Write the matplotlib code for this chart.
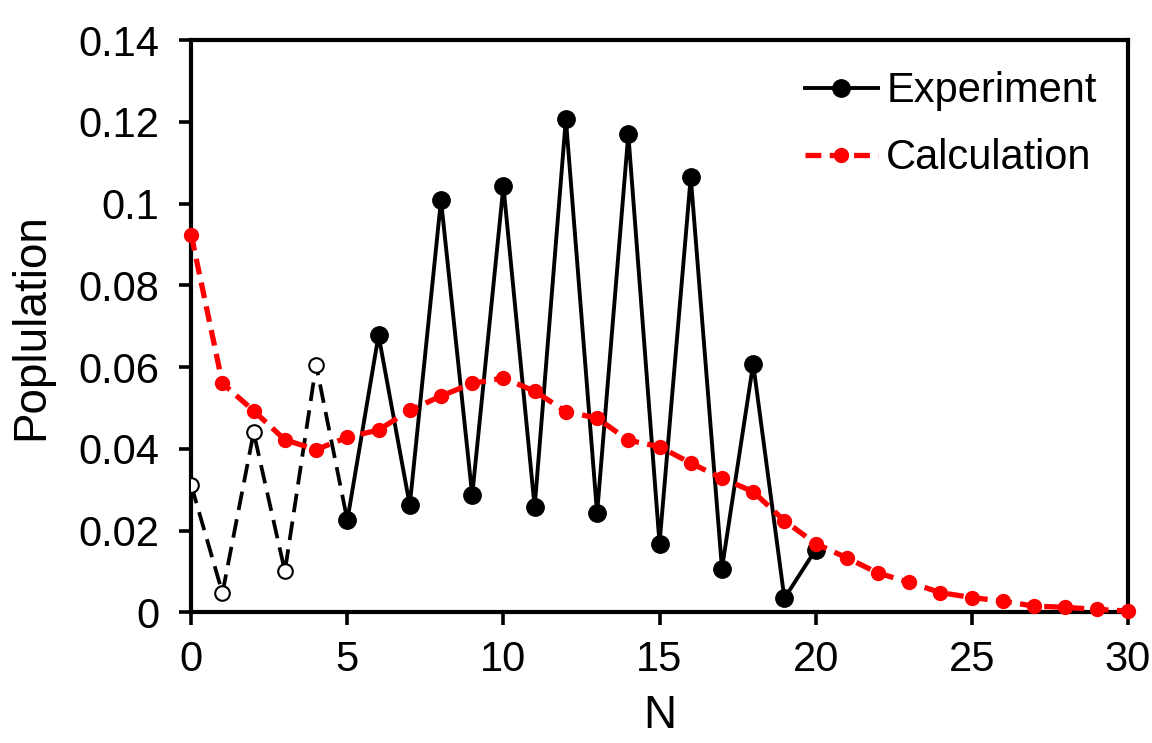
import matplotlib.pyplot as plt

plt.rcParams['font.family'] = ['Liberation Sans', 'DejaVu Sans']

# ------------------ DATA ------------------
n_open = [0, 1, 2, 3, 4, 5]
pop_open = [0.0311, 0.0047, 0.0440, 0.0100, 0.0605, 0.0225]

n_exp = [5, 6, 7, 8, 9, 10, 11, 12, 13, 14, 15, 16, 17, 18, 19, 20]
pop_exp = [0.0225, 0.0678, 0.0262, 0.1009, 0.0286, 0.1043, 0.0257, 0.1207,
           0.0242, 0.1170, 0.0168, 0.1065, 0.0107, 0.0608, 0.0034, 0.0153]

n_calc = list(range(31))
pop_calc = [0.0923, 0.0560, 0.0493, 0.0422, 0.0398, 0.0428, 0.0446, 0.0494,
            0.0529, 0.0560, 0.0573, 0.0541, 0.0491, 0.0475, 0.0421, 0.0405,
            0.0365, 0.0328, 0.0295, 0.0224, 0.0168, 0.0133, 0.0096, 0.0073,
            0.0048, 0.0036, 0.0027, 0.0015, 0.0012, 0.0007, 0.0003]

# ------------------ PLOT ------------------
fig = plt.figure(figsize=(11.52, 7.43), dpi=100)
ax = fig.add_axes([0.166, 0.176, 0.813, 0.770])

# dashed part with open markers (N = 0..4, joined to N = 5)
ax.plot(n_open, pop_open, color="black", linestyle=(0, (5, 2.5)), linewidth=2.7, zorder=2)
ax.plot(n_open[:-1], pop_open[:-1], linestyle="none", marker="o", markersize=10.5,
        markerfacecolor="white", markeredgecolor="black", markeredgewidth=1.5, zorder=3)

ax.plot(n_exp, pop_exp, color="black", linestyle="-", linewidth=2.8,
        marker="o", markersize=12.5, label="Experiment", zorder=3)
ax.plot(n_calc, pop_calc, color="#ff0000", linestyle=(0, (3, 1.6)), linewidth=3.8,
        marker="o", markersize=10, label="Calculation", zorder=4, clip_on=False)

# ------------------ AXES ------------------
ax.set_xlim(0, 30)
ax.set_ylim(0, 0.14)
ax.set_xticks([0, 5, 10, 15, 20, 25, 30])
ax.set_yticks([0, 0.02, 0.04, 0.06, 0.08, 0.1, 0.12, 0.14])
ax.set_yticklabels(["0", "0.02", "0.04", "0.06", "0.08", "0.1", "0.12", "0.14"])
ax.tick_params(direction="out", length=9, width=2.6, labelsize=30,
               top=False, right=False)
ax.tick_params(axis="y", pad=14)
ax.tick_params(axis="x", pad=11)
for s in ax.spines.values():
    s.set_linewidth(3.0)

ax.set_xlabel("N", fontsize=33, labelpad=10)
ax.set_ylabel("Poplulation", fontsize=33, labelpad=18)

ax.legend(loc="upper right", frameon=False, fontsize=30, handlelength=1.75,
          handletextpad=0.2, borderaxespad=0.35, labelspacing=0.65)

fig.savefig("out.png", dpi=100)
